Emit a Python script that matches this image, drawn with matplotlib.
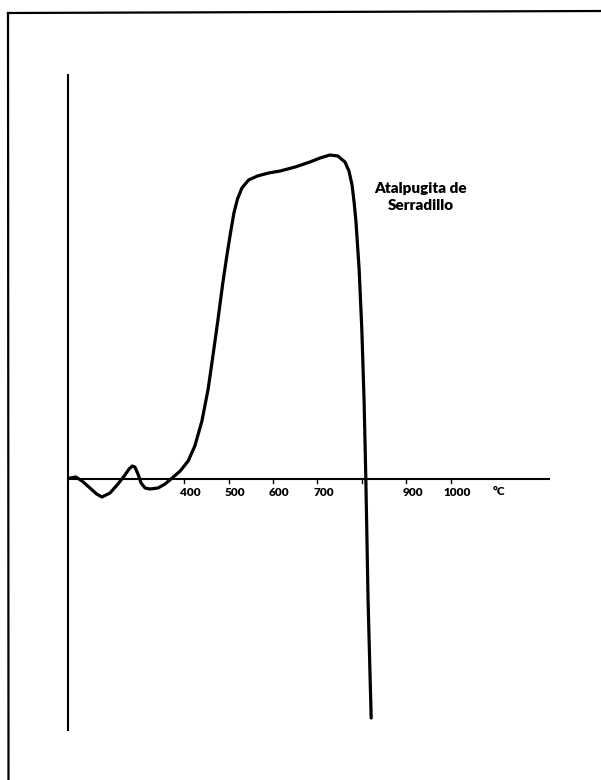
import numpy as np
import matplotlib
matplotlib.use('Agg')
import matplotlib.pyplot as plt
from matplotlib.lines import Line2D

# DTA trace: temperature (°C) vs differential signal (arbitrary units)
temp = [143, 156, 170, 188, 203, 215, 233, 251, 265, 276, 283, 289, 296, 303,
        312, 323, 341, 357, 373, 391, 409, 424, 440, 454, 465, 476, 487, 496,
        505, 512, 520, 530, 545, 565, 590, 616, 650, 683, 706, 728, 746, 762,
        771, 778, 783, 787, 794, 800, 805, 809, 814, 821]
signal = [0.1, 0.2, -0.2, -0.9, -1.5, -1.8, -1.4, -0.5, 0.3, 1.0, 1.3, 1.2, 0.5,
          -0.4, -0.9, -1.0, -0.9, -0.5, 0.1, 0.8, 1.8, 3.3, 5.8, 9.0, 12.4, 15.9,
          19.6, 22.3, 24.8, 26.6, 28.0, 29.1, 29.9, 30.3, 30.6, 30.8, 31.2, 31.7,
          32.1, 32.4, 32.3, 31.7, 30.8, 29.4, 27.5, 25.6, 20.9, 14.9, 7.9, 0.0,
          -12.1, -23.9]

tick_temps = [400, 500, 600, 700, 800, 900, 1000]
tick_labels = ['400', '500', '600', '700', '', '900', '1000']
sample_name = 'Atalpugita de\nSerradillo'

fig = plt.figure(figsize=(6.01, 7.80), dpi=100)
ax = fig.add_axes([0, 0, 1, 1])
ax.set_xlim(-14.6, 1338.4)
ax.set_ylim(-30.1, 47.9)
ax.axis('off')

# page border (top and left edges)
fig.add_artist(Line2D([8 / 601, 1], [1 - 13 / 780, 1 - 11 / 780],
                      color='black', lw=1.6, transform=fig.transFigure))
fig.add_artist(Line2D([8 / 601, 8.5 / 601], [1 - 13 / 780, 0],
                      color='black', lw=1.6, transform=fig.transFigure))

# hand-drawn axes
x0 = 138.5
ax.plot([x0, x0], [40.5, -25.2], color='black', lw=1.5, solid_capstyle='butt')
ax.plot([x0, 1224], [0, 0], color='black', lw=1.5, solid_capstyle='butt')
for t, lab in zip(tick_temps, tick_labels):
    ax.plot([t, t], [0, -0.35], color='black', lw=1.0)
    if lab:
        ax.text(t + 14, -1.35, lab, ha='center', va='center', fontsize=8.5,
                fontweight='heavy', family='Lato')
ax.text(1110, -1.25, '°C', ha='center', va='center', fontsize=8.5,
        fontweight='heavy', family='Lato')

ax.plot(temp, signal, color='black', lw=2.3, solid_joinstyle='round',
        solid_capstyle='round')

ax.text(933, 28.2, sample_name, ha='center', va='center', fontsize=11,
        fontweight='heavy', family='Lato', linespacing=1.3)

fig.savefig('out.png', dpi=100, facecolor='white')
